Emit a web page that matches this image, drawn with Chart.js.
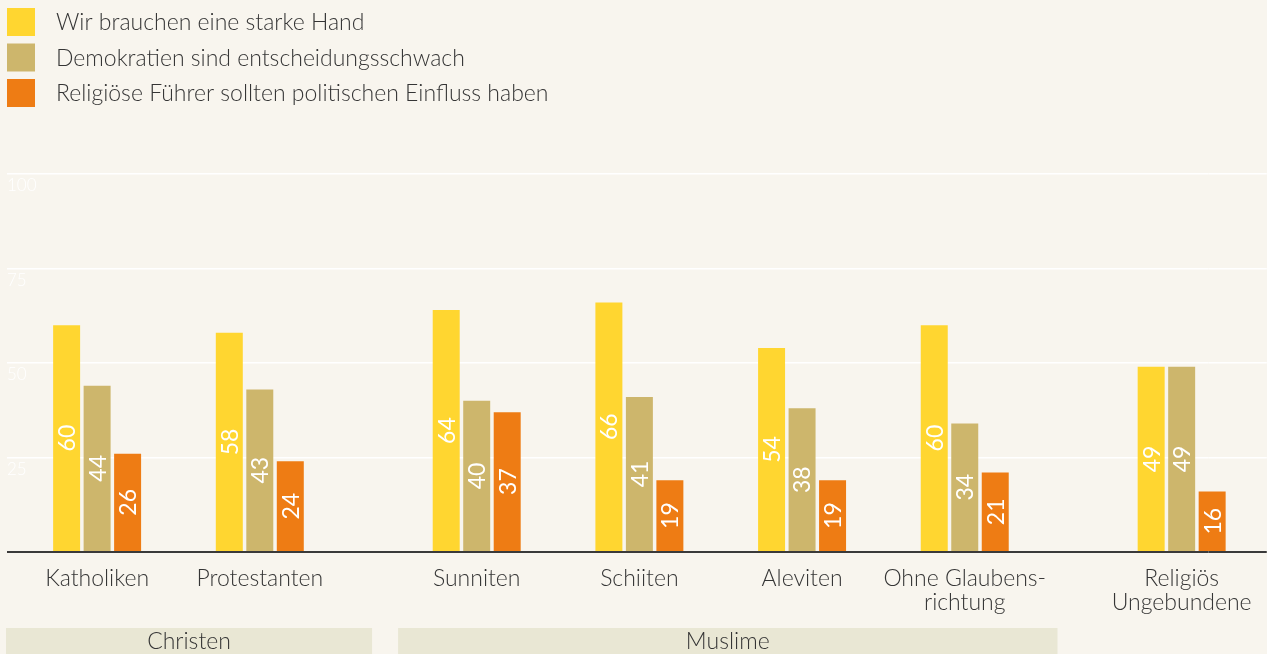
<!DOCTYPE html>
<html lang="de">
<head>
<meta charset="utf-8">
<title>Starke Hand nach Religionszugehörigkeit</title>
<script src="https://cdn.jsdelivr.net/npm/chart.js"></script>
<style>
  html, body { margin: 0; padding: 0; background: #f8f5ee; }
  #wrap { width: 1267px; height: 654px; }
</style>
</head>
<body>
<div id="wrap"><canvas id="chart" width="1267" height="654"></canvas></div>
<script>
// --- Daten ---
// Achsenbeschriftung mit Leerplätzen für die Abstände zwischen den Gruppen
const tickLabels = [
    'Katholiken', '', '', 'Protestanten', '', '', '',
    'Sunniten', '', '', 'Schiiten', '', '', 'Aleviten', '', '',
    ['Ohne Glaubens-', 'richtung'], '', '', '',
    ['Religiös', 'Ungebundene']
];

const starkeHand = [60, 58, 64, 66, 54, 60, 49];
const demokratienSchwach = [44, 43, 40, 41, 38, 34, 49];
const religioeseFuehrer = [26, 24, 37, 19, 19, 21, 16];

const seriesNames = [
    'Wir brauchen eine starke Hand',
    'Demokratien sind entscheidungsschwach',
    'Religiöse Führer sollten politischen Einfluss haben'
];
const seriesColors = ['#ffd630', '#cdb66c', '#ee7c14'];

const yTicks = [0, 25, 50, 75, 100];

// Obergruppen unter der Achse (Indizes der Kategorien)
const groupNames = ['Christen', 'Muslime'];
const groupMembers = [[0, 1], [2, 3, 4, 5]];

// Position jeder Kategorie auf der Achse
const slotIdx = tickLabels
    .map((l, i) => (l !== '' ? i : -1))
    .filter(i => i >= 0);

function toSlots(values) {
    const out = tickLabels.map(() => null);
    values.forEach((v, i) => { out[slotIdx[i]] = v; });
    return out;
}

const FONT = 'Lato, "Open Sans", sans-serif';
const TEXT = '#353535';

// Werte senkrecht in die Balken schreiben
const barValueLabels = {
    id: 'barValueLabels',
    afterDatasetsDraw(chart) {
        const ctx = chart.ctx;
        ctx.save();
        ctx.font = '400 23px ' + FONT;
        ctx.fillStyle = '#ffffff';
        ctx.textAlign = 'center';
        ctx.textBaseline = 'middle';
        chart.data.datasets.forEach((ds, i) => {
            chart.getDatasetMeta(i).data.forEach((bar, j) => {
                const v = ds.data[j];
                if (v === null || v === undefined) return;
                ctx.save();
                ctx.translate(bar.x, (bar.y + bar.base) / 2);
                ctx.rotate(-Math.PI / 2);
                ctx.fillText(String(v), 0, 1);
                ctx.restore();
            });
        });
        ctx.restore();
    }
};

// Legende untereinander, oben links
const stackedLegend = {
    id: 'stackedLegend',
    afterDraw(chart, args, opts) {
        const ctx = chart.ctx;
        ctx.save();
        ctx.font = opts.font;
        ctx.textBaseline = 'middle';
        ctx.textAlign = 'left';
        chart.data.datasets.forEach((ds, i) => {
            const y = opts.top + i * opts.rowHeight;
            ctx.fillStyle = ds.backgroundColor;
            ctx.fillRect(opts.left, y, opts.box, opts.box);
            ctx.fillStyle = opts.color;
            ctx.fillText(ds.label, opts.textLeft, y + opts.box / 2 + 1);
        });
        ctx.restore();
    }
};

// Bänder "Christen" / "Muslime" unter den Kategorien
const groupBands = {
    id: 'groupBands',
    afterDraw(chart, args, opts) {
        const ctx = chart.ctx;
        const x = chart.scales.x;
        ctx.save();
        ctx.font = opts.font;
        ctx.textAlign = 'center';
        ctx.textBaseline = 'middle';
        groupNames.forEach((name, g) => {
            const members = groupMembers[g];
            const first = slotIdx[members[0]];
            const last = slotIdx[members[members.length - 1]];
            const left = x.getPixelForValue(first - opts.reach[g][0]);
            const right = x.getPixelForValue(last + opts.reach[g][1]);
            ctx.fillStyle = opts.fill;
            ctx.fillRect(left, opts.top, right - left, chart.height - opts.top);
            ctx.fillStyle = opts.color;
            ctx.fillText(name, (left + right) / 2, opts.top + 14);
        });
        ctx.restore();
    }
};

const gridColor = c => (c.tick && c.tick.value === 0 ? '#3a3a3a' : '#ffffff');
const gridWidth = c => (c.tick && c.tick.value === 0 ? 2 : 1.5);

const datasets = [starkeHand, demokratienSchwach, religioeseFuehrer].map((vals, i) => ({
    label: seriesNames[i],
    data: toSlots(vals),
    backgroundColor: seriesColors[i],
    borderWidth: 0,
    clip: false,
    barPercentage: 0.885,
    categoryPercentage: 1.687
}));

new Chart(document.getElementById('chart'), {
    type: 'bar',
    data: { labels: tickLabels, datasets: datasets },
    options: {
        responsive: false,
        animation: false,
        devicePixelRatio: 1,
        layout: { padding: { left: 7, right: 0, top: 174, bottom: 38 } },
        plugins: {
            legend: { display: false },
            tooltip: { enabled: false },
            stackedLegend: {
                left: 7, top: 8, box: 28, rowHeight: 35.5, textLeft: 56,
                font: '300 23px ' + FONT, color: TEXT
            },
            groupBands: {
                top: 628, fill: '#e9e7d4', color: TEXT,
                font: '300 23px ' + FONT,
                reach: [[1.68, 2.07], [1.45, 1.71]]
            }
        },
        scales: {
            x: {
                grid: { display: false, drawTicks: false },
                border: { display: false },
                afterFit(s) { s.height = 64; },
                ticks: {
                    autoSkip: false, maxRotation: 0, minRotation: 0, padding: 14,
                    color: TEXT,
                    font: { family: FONT, size: 23, weight: 300, lineHeight: 1.07 }
                }
            },
            y: {
                position: 'left',
                min: yTicks[0], max: yTicks[yTicks.length - 1],
                afterFit(s) { s.width = 63; },
                afterBuildTicks(s) { s.ticks = yTicks.map(v => ({ value: v })); },
                grid: { color: gridColor, lineWidth: gridWidth, drawTicks: true, tickLength: 63 },
                border: { display: false },
                ticks: {
                    crossAlign: 'far', labelOffset: 12, padding: 0,
                    color: '#ffffff',
                    font: { family: FONT, size: 17, weight: 300 },
                    callback: v => (v === 0 ? '' : v)
                }
            },
            yRight: {
                position: 'right',
                display: true,
                min: yTicks[0], max: yTicks[yTicks.length - 1],
                afterFit(s) { s.width = 58; },
                afterBuildTicks(s) { s.ticks = yTicks.map(v => ({ value: v })); },
                grid: { color: gridColor, lineWidth: gridWidth, drawOnChartArea: false, drawTicks: true, tickLength: 58 },
                border: { display: false },
                ticks: { display: false }
            }
        }
    },
    plugins: [barValueLabels, stackedLegend, groupBands]
});
</script>
</body>
</html>
